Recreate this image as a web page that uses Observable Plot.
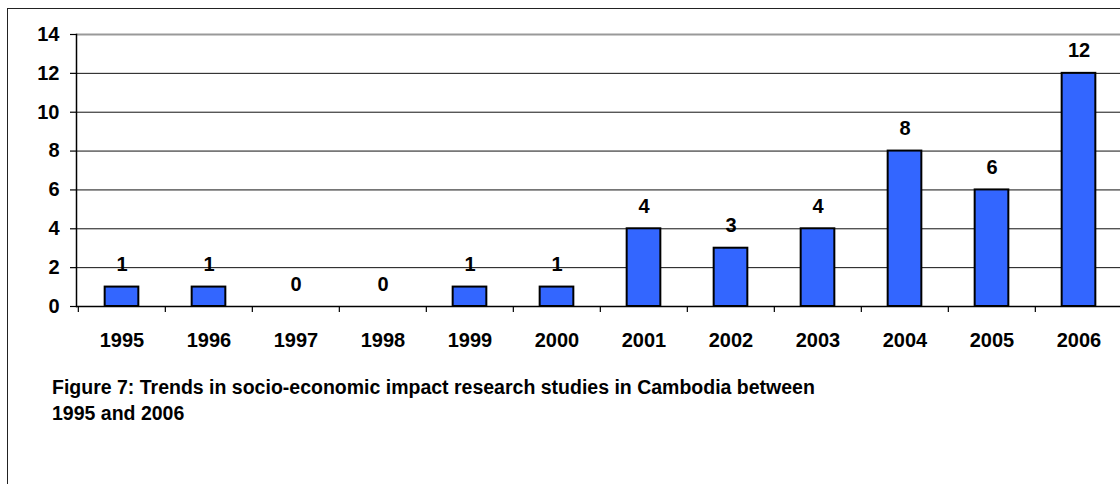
<!DOCTYPE html>
<html>
<head>
<meta charset="utf-8">
<script src="https://cdn.jsdelivr.net/npm/d3@7"></script>
<script src="https://cdn.jsdelivr.net/npm/@observablehq/plot@0.6"></script>
<style>
  html, body { margin: 0; padding: 0; background: #fff; }
  body { width: 1120px; height: 484px; overflow: hidden; position: relative;
         font-family: "Liberation Sans", Arial, Helvetica, sans-serif; }
  #frame { position: absolute; left: 7px; top: 8px; width: 1140px; height: 500px;
           border: 1.5px solid #222; box-sizing: border-box; }
  #chart { position: absolute; left: 0; top: 0; width: 1130px; }
  #chart svg { max-width: none !important; }
  #caption { position: absolute; left: 52px; top: 374px; font-size: 19.5px; font-weight: bold;
             line-height: 26px; color: #000; white-space: nowrap; }
</style>
</head>
<body>
<div id="frame"></div>
<div id="chart"></div>
<div id="caption">Figure 7: Trends in socio-economic impact research studies in Cambodia between<br>1995 and 2006</div>
<script>
// Number of socio-economic impact research studies per year
const years = ["1995", "1996", "1997", "1998", "1999", "2000", "2001", "2002", "2003", "2004", "2005", "2006"];
const studies = [1, 1, 0, 0, 1, 1, 4, 3, 4, 8, 6, 12];
const yTicks = [0, 2, 4, 6, 8, 10, 12, 14];

const data = years.map((year, i) => ({year, count: studies[i]}));

const width = 1130, marginLeft = 76, marginRight = 6;
const step = (width - marginLeft - marginRight) / years.length;
const barInset = (step - 34) / 2;

const chart = Plot.plot({
  width,
  height: 360,
  marginLeft,
  marginRight,
  marginTop: 34,
  marginBottom: 54,
  style: {
    fontFamily: "'Liberation Sans', Arial, Helvetica, sans-serif",
    fontSize: "20px",
    fontWeight: "bold",
    color: "#000",
    background: "transparent",
    overflow: "visible",
    maxWidth: "none"
  },
  x: {domain: years, padding: 0, label: null},
  y: {domain: [0, 14], ticks: yTicks, label: null},
  marks: [
    // horizontal gridlines
    Plot.ruleY(yTicks.filter(d => d > 0 && d < 14), {stroke: "#111", strokeWidth: 1}),
    Plot.ruleY([14], {stroke: "#999", strokeWidth: 2}),
    // axes
    Plot.axisY({ticks: yTicks, tickSize: 6, tickPadding: 11, label: null, strokeWidth: 1.2}),
    Plot.axisX({tickSize: 0, tickPadding: 26, label: null}),
    Plot.axisX({tickSize: 6, text: null, dx: -step / 2, label: null, strokeWidth: 1.2}),
    Plot.frame({anchor: "left", stroke: "#000", strokeWidth: 1.5}),
    Plot.ruleY([0], {stroke: "#000", strokeWidth: 1.5}),
    // bars
    Plot.barY(data, {
      filter: d => d.count > 0,
      x: "year", y: "count",
      fill: "#3366ff", stroke: "#000", strokeWidth: 2,
      insetLeft: barInset, insetRight: barInset
    }),
    // value labels
    Plot.text(data, {
      x: "year", y: "count", text: d => String(d.count),
      dy: -16, lineAnchor: "bottom", fontSize: 20, fontWeight: "bold", fill: "#000"
    })
  ]
});

document.getElementById("chart").appendChild(chart);
</script>
</body>
</html>
